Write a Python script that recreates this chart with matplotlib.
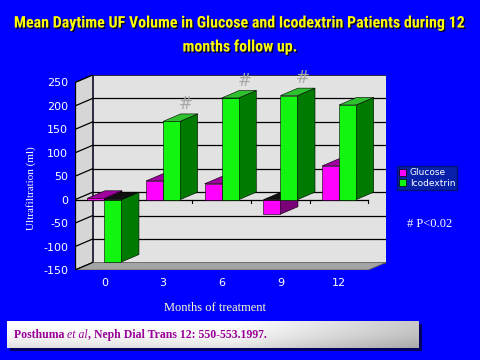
import matplotlib
matplotlib.use('Agg')
import numpy as np
import matplotlib.pyplot as plt
import matplotlib.patheffects as pe
from matplotlib.patches import Patch, Rectangle

# data
months = ['0', '3', '6', '9', '12']
glucose = [3, 40, 34, -31, 72]
icodextrin = [-133, 167, 217, 222, 202]
significant = [False, True, True, True, False]
y_ticks = [-150, -100, -50, 0, 50, 100, 150, 200, 250]

# fake 3D depth (in data units)
DX = 0.30
DY = 16
W = 0.29
YMIN, YMAX = -150, 250

BLUE = '#0000FF'

fig = plt.figure(figsize=(4.8, 3.6), dpi=100, facecolor=BLUE)
ax = fig.add_axes([75 / 480, 90 / 360, 311 / 480, 195 / 360])
ax.set_xlim(-0.5, len(months) - 0.5 + DX)
ax.set_ylim(YMIN, YMAX + DY)
ax.patch.set_visible(False)
for s in ax.spines.values():
    s.set_visible(False)

x_left, x_right = -0.5, len(months) - 0.5

# walls and floor
ax.fill([x_left + DX, x_right + DX, x_right + DX, x_left + DX],
        [YMIN + DY, YMIN + DY, YMAX + DY, YMAX + DY],
        facecolor='#E2E2E2', edgecolor='#202020', lw=0.6, zorder=0)
ax.fill([x_left, x_left + DX, x_left + DX, x_left],
        [YMIN, YMIN + DY, YMAX + DY, YMAX],
        facecolor='#D6D6D6', edgecolor='#202020', lw=0.6, zorder=0)
ax.fill([x_left, x_right, x_right + DX, x_left + DX],
        [YMIN, YMIN, YMIN + DY, YMIN + DY],
        facecolor='#A4A4A4', edgecolor='#606060', lw=0.6, zorder=0)

# gridlines on back and left walls
for v in y_ticks[1:-1]:
    ax.plot([x_left + DX, x_right + DX], [v + DY, v + DY], color='black', lw=0.9, zorder=1)
for v in y_ticks:
    ax.plot([x_left, x_left + DX], [v, v + DY], color='black', lw=0.9, zorder=1)
ax.plot([x_left, x_left], [YMIN, YMAX], color='black', lw=0.9, zorder=1)

# category axis at zero
ax.plot([x_left, x_right], [0, 0], color='black', lw=0.9, zorder=2)
for i in range(len(months)):
    ax.plot([i + 0.5, i + 0.5], [0, -7], color='black', lw=0.8, zorder=2)


def draw_bar(x0, v, front, side, top, z):
    lo, hi = min(0, v), max(0, v)
    top_col = top if v >= 0 else '#101010'
    ax.fill([x0 + W, x0 + W + DX, x0 + W + DX, x0 + W],
            [lo, lo + DY, hi + DY, hi], facecolor=side, edgecolor='black', lw=0.4, zorder=z)
    ax.fill([x0, x0 + DX, x0 + W + DX, x0 + W],
            [hi, hi + DY, hi + DY, hi], facecolor=top_col, edgecolor='black', lw=0.4, zorder=z)
    ax.bar(x0, v, W, align='edge', color=front, edgecolor='black', lw=0.4, zorder=z)


for i in range(len(months)):
    draw_bar(i - W, glucose[i], '#FF00FF', '#7A007A', '#A000A0', 3 + 2 * i)
    draw_bar(i, icodextrin[i], '#11F511', '#007A00', '#2FC02F', 4 + 2 * i)
    if significant[i]:
        ax.text(i + W / 2 + DX * 0.8, icodextrin[i] + DY + 2, '#', color='#A8A8A8',
                fontsize=12, ha='center', va='bottom', zorder=20, clip_on=False)

ax.set_yticks(y_ticks)
ax.set_yticklabels([str(v) for v in y_ticks])
ax.set_xticks(range(len(months)))
ax.set_xticklabels(months)
ax.tick_params(axis='both', length=0, colors='white', labelsize=8)
ax.tick_params(axis='y', pad=5)
ax.tick_params(axis='x', pad=6)

# title, shrunk until it fits the slide width
title = fig.text(0.5, 1 - 35 / 360,
                 'Mean Daytime UF Volume in Glucose and Icodextrin Patients during 12\nmonths follow up.',
                 ha='center', va='center', color='#FFFF00', fontsize=12.5, fontweight='bold',
                 family=['Roboto Condensed', 'Liberation Sans'], fontstretch='condensed',
                 linespacing=1.75,
                 path_effects=[pe.withSimplePatchShadow(offset=(1, -1), shadow_rgbFace='#000033', alpha=1)])
renderer = fig.canvas.get_renderer()
size = 12.5
while title.get_window_extent(renderer).width > 458 and size > 6:
    size -= 0.25
    title.set_fontsize(size)

# axis labels
fig.text(31 / 480, 1 - 188 / 360, 'Ultrafiltration (ml)', rotation=90, ha='center', va='center',
         color='white', fontsize=8, family='Liberation Serif')
fig.text(215 / 480, 1 - 308 / 360, 'Months of treatment', ha='center', va='center',
         color='#FFFFCC', fontsize=9, family='Liberation Serif')

# legend
handles = [Patch(facecolor='#FF00FF', edgecolor='black', lw=0.5),
           Patch(facecolor='#11F511', edgecolor='black', lw=0.5)]
leg = fig.legend(handles, ['Glucose', 'Icodextrin'], loc='upper left',
                 bbox_to_anchor=(397 / 480, 1 - 166 / 360), fontsize=6.5,
                 frameon=True, fancybox=False, facecolor='#0A2A96', edgecolor='#001060',
                 handlelength=0.8, handleheight=0.8, handletextpad=0.35,
                 borderpad=0.25, labelspacing=0.2, borderaxespad=0)
leg.get_frame().set_linewidth(1)
for t in leg.get_texts():
    t.set_color('white')

fig.text(407 / 480, 1 - 224 / 360, '# P<0.02', ha='left', va='center', color='white',
         fontsize=9, family='Liberation Serif')

# citation box with gradient and a dark drop shadow
fig.patches.append(Rectangle((10 / 480, 1 - 351 / 360), 412 / 480, 27 / 360,
                             transform=fig.transFigure, facecolor='#000060', zorder=-1))
bax = fig.add_axes([7 / 480, 1 - 348 / 360, 412 / 480, 27 / 360])
bax.set_zorder(2)
gx = np.linspace(0, 1, 200)
gy = np.linspace(0, 1, 30)
grad = 1 - 0.22 * np.clip(gx[None, :] - 0.55, 0, None) / 0.45 - 0.12 * gy[:, None] ** 2
bax.imshow(grad, cmap='gray', vmin=0, vmax=1, aspect='auto', extent=[0, 1, 0, 1])
bax.set_axis_off()

purple = '#990099'
t1 = bax.text(0.017, 0.48, 'Posthuma ', transform=bax.transAxes, ha='left', va='center',
              color=purple, fontsize=8.5, fontweight='bold', family='Liberation Serif')
t2 = bax.annotate('et al', xy=(1, 0), xycoords=t1, ha='left', va='bottom',
                  color=purple, fontsize=8.5, fontstyle='italic', family='Liberation Serif')
bax.annotate(', Neph Dial Trans 12: 550-553.1997.', xy=(1, 0), xycoords=t2, ha='left', va='bottom',
             color=purple, fontsize=8.5, fontweight='bold', family='Liberation Serif')

fig.savefig('out.png', dpi=100, facecolor=fig.get_facecolor())
